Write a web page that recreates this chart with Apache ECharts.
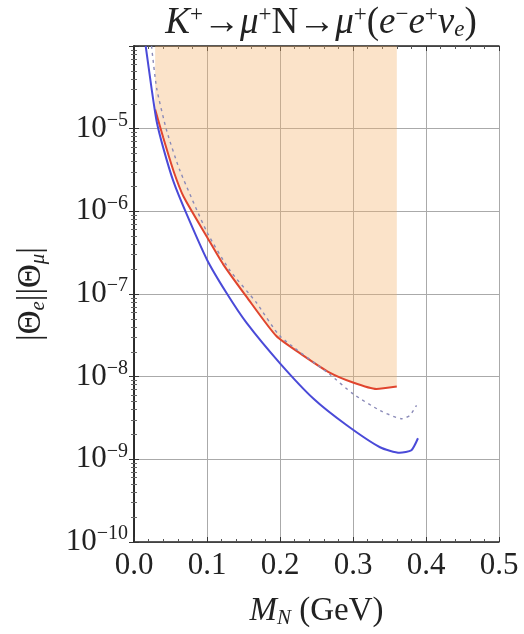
<!DOCTYPE html>
<html>
<head>
<meta charset="utf-8">
<script src="https://cdn.jsdelivr.net/npm/echarts@6/dist/echarts.min.js"></script>
<style>
  html, body { margin: 0; padding: 0; background: #fff; }
  #chart { width: 524px; height: 634px; }
</style>
</head>
<body>
<div id="chart"></div>
<script>
// x in GeV, y = |Θe||Θμ|
const redCurve = [
  [0.029, 1.7e-5], [0.040, 7.8e-6], [0.054, 3.1e-6], [0.068, 1.5e-6],
  [0.100, 4.9e-7], [0.122, 2.3e-7], [0.154, 9.3e-8], [0.195, 3.1e-8],
  [0.232, 1.8e-8], [0.268, 1.12e-8], [0.300, 8.5e-9], [0.332, 7.1e-9],
  [0.360, 7.6e-9]
];
const blueCurve = [
  [0.016, 1.0e-4], [0.024, 3.1e-5], [0.031, 1.23e-5], [0.040, 5.9e-6],
  [0.054, 2.3e-6], [0.072, 9.3e-7], [0.100, 2.6e-7], [0.127, 1.02e-7],
  [0.154, 4.5e-8], [0.200, 1.45e-8], [0.246, 5.4e-9], [0.291, 2.6e-9],
  [0.337, 1.4e-9], [0.364, 1.2e-9], [0.380, 1.29e-9], [0.389, 1.8e-9]
];
const dottedCurve = [
  [0.024, 1.0e-4], [0.031, 3.1e-5], [0.045, 9.3e-6], [0.063, 3.1e-6],
  [0.100, 5.6e-7], [0.131, 1.95e-7], [0.168, 7.8e-8], [0.200, 3.1e-8],
  [0.268, 1.07e-8], [0.300, 6.2e-9], [0.337, 3.9e-9], [0.367, 3.1e-9],
  [0.378, 3.4e-9], [0.387, 4.5e-9]
];
const xTicks = [0, 0.1, 0.2, 0.3, 0.4, 0.5];
const yExponents = [-10, -9, -8, -7, -6, -5];

const serif = 'Liberation Serif';
const ink = '#222';
const chart = echarts.init(document.getElementById('chart'));

const frameLine = { show: true, lineStyle: { color: '#222', width: 1.5 } };

chart.setOption({
  animation: false,
  backgroundColor: '#fff',
  title: {
    left: 316,
    textAlign: 'center',
    top: -2,
    text: '{i|K}{sup|+}{n|→}{i|μ}{sup|+}{n|N→}{i|μ}{sup|+}{n|(}{i|e}{sup|−}{i|e}{sup|+}{i|ν}{sub|e}{n|)}',
    textStyle: {
      fontWeight: 'normal',
      rich: {
        i: { fontFamily: serif, fontStyle: 'italic', fontWeight: 'normal', fontSize: 37, color: ink },
        n: { fontFamily: serif, fontWeight: 'normal', fontSize: 37, color: ink },
        sup: { fontFamily: serif, fontWeight: 'normal', fontSize: 23, color: ink, padding: [0, 0, 18, 0] },
        sub: { fontFamily: serif, fontStyle: 'italic', fontWeight: 'normal', fontSize: 23, color: ink, padding: [13, 0, 0, 0] }
      }
    }
  },
  grid: { left: 134, right: 25, top: 46, bottom: 85 },
  xAxis: [{
    type: 'value',
    min: 0, max: 0.5, interval: 0.1,
    axisLine: frameLine,
    axisTick: { inside: true, length: 5, lineStyle: { color: '#333' } },
    minorTick: { show: true, splitNumber: 5, length: 3, lineStyle: { color: '#555' } },
    splitLine: { show: true, lineStyle: { color: '#aaa', width: 1 } },
    axisLabel: {
      fontFamily: serif, fontSize: 31, color: ink, margin: 8,
      formatter: v => xTicks.some(t => Math.abs(t - v) < 1e-9) ? v.toFixed(1) : ''
    },
    name: '{i|M}{sub|N}{n| (GeV)}',
    nameLocation: 'middle',
    nameGap: 52,
    nameTextStyle: {
      rich: {
        i: { fontFamily: serif, fontStyle: 'italic', fontSize: 33, color: ink },
        n: { fontFamily: serif, fontSize: 33, color: ink },
        sub: { fontFamily: serif, fontStyle: 'italic', fontSize: 21, color: ink, padding: [14, 0, 0, 0] }
      }
    }
  }, {
    type: 'value', position: 'top',
    min: 0, max: 0.5, interval: 0.1,
    axisLine: frameLine,
    axisTick: { inside: true, length: 5, lineStyle: { color: '#333' } },
    minorTick: { show: true, splitNumber: 5, length: 3, lineStyle: { color: '#555' } },
    splitLine: { show: false },
    axisLabel: { show: false }
  }],
  yAxis: [{
    type: 'log',
    min: 1e-10, max: 1e-4,
    logBase: 10,
    axisLine: frameLine,
    axisTick: { inside: true, length: 5, lineStyle: { color: '#333' } },
    minorTick: { show: true, splitNumber: 9, length: 3, lineStyle: { color: '#666' } },
    splitLine: { show: true, lineStyle: { color: '#aaa', width: 1 } },
    axisLabel: {
      margin: 6,
      formatter: v => {
        const e = Math.round(Math.log10(v));
        if (!yExponents.includes(e)) return '';
        return '{b|10}{s|−' + (-e) + '}';
      },
      rich: {
        b: { fontFamily: serif, fontSize: 31, color: ink },
        s: { fontFamily: serif, fontSize: 20, color: ink, padding: [0, 0, 16, 0] }
      }
    },
    name: '{n||Θ}{sub|e}{n||}{n||Θ}{sub|μ}{n||}',
    nameLocation: 'middle',
    nameGap: 85,
    nameRotate: 90,
    nameTextStyle: {
      rich: {
        n: { fontFamily: serif, fontSize: 33, color: ink },
        sub: { fontFamily: serif, fontStyle: 'italic', fontSize: 21, color: ink, padding: [14, 0, 0, 0] }
      }
    }
  }, {
    type: 'log', position: 'right',
    min: 1e-10, max: 1e-4,
    logBase: 10,
    axisLine: frameLine,
    axisTick: { inside: true, length: 5, lineStyle: { color: '#333' } },
    minorTick: { show: true, splitNumber: 9, length: 3, lineStyle: { color: '#666' } },
    splitLine: { show: false },
    axisLabel: { show: false }
  }],
  series: [
    {
      type: 'line',
      data: redCurve,
      showSymbol: false,
      smooth: 0.2,
      lineStyle: { color: '#e0452e', width: 2 },
      areaStyle: { origin: 'end', color: 'rgba(245,177,101,0.5)' },
      z: 2
    },
    {
      type: 'line',
      data: dottedCurve,
      showSymbol: false,
      smooth: 0.2,
      lineStyle: { color: '#8a8ab8', width: 1.4, type: [3, 4] },
      z: 3
    },
    {
      type: 'line',
      data: blueCurve,
      showSymbol: false,
      smooth: 0.2,
      lineStyle: { color: '#4a4ad8', width: 2 },
      z: 4
    }
  ]
});
</script>
</body>
</html>
